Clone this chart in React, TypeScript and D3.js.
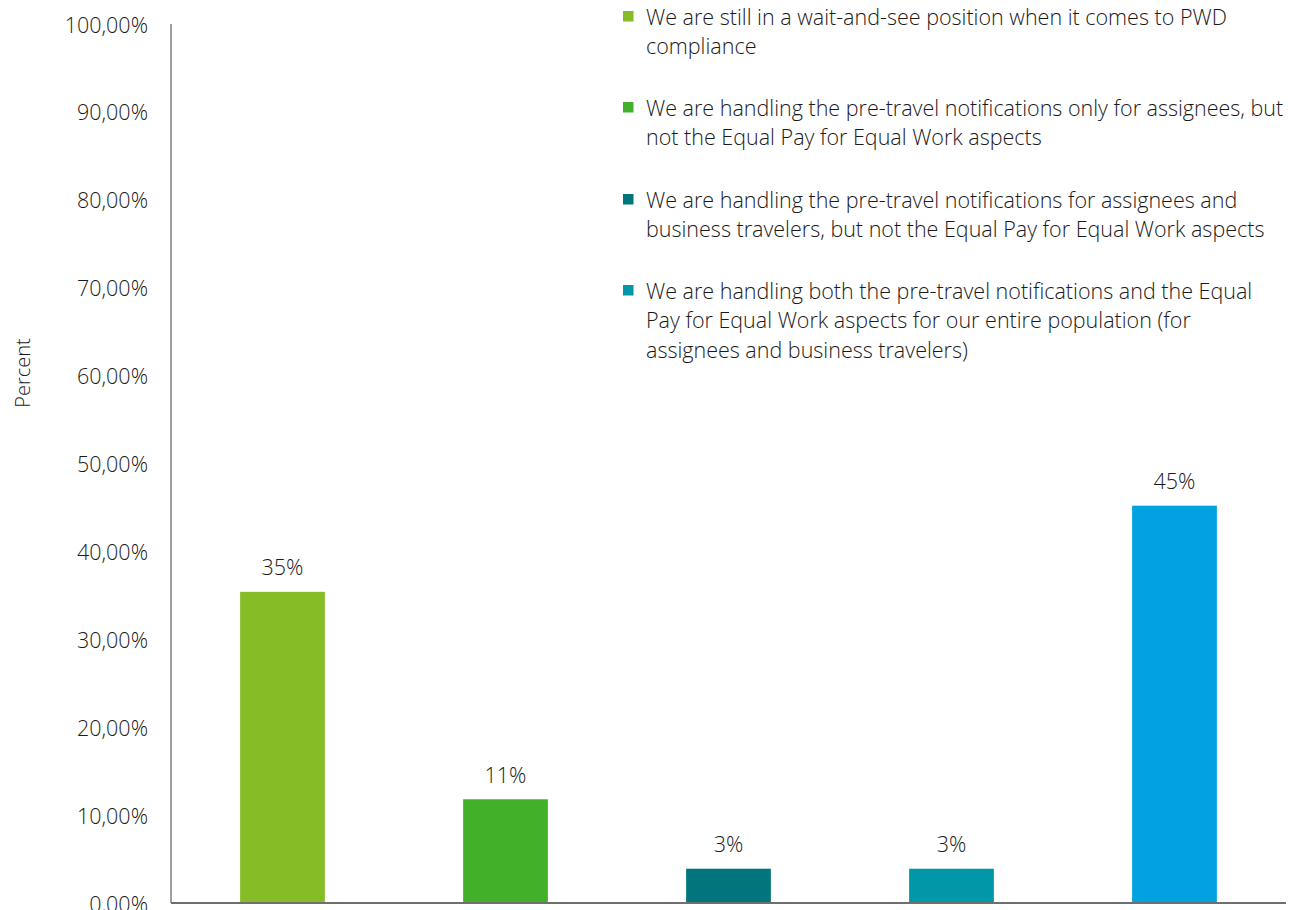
import React from "react";
import * as d3 from "d3";

const categories = ["wait", "assignees", "assigneesBT", "both", "other"];
const values = [35.4, 11.8, 3.9, 3.9, 45.2];
const valueLabels = ["35%", "11%", "3%", "3%", "45%"];
const colors = ["#86BC25", "#43B02A", "#00757B", "#0097A9", "#00A3E0"];
const yTicks = [0, 10, 20, 30, 40, 50, 60, 70, 80, 90, 100];
const yTickLabels = ["0,00%", "10,00%", "20,00%", "30,00%", "40,00%", "50,00%", "60,00%", "70,00%", "80,00%", "90,00%", "100,00%"];
const legendItems = [
  ["We are still in a wait-and-see position when it comes to PWD", "compliance"],
  ["We are handling the pre-travel notifications only for assignees, but", "not the Equal Pay for Equal Work aspects"],
  ["We are handling the pre-travel notifications for assignees and", "business travelers, but not the Equal Pay for Equal Work aspects"],
  ["We are handling both the pre-travel notifications and the Equal", "Pay for Equal Work aspects for our entire population (for", "assignees and business travelers)"],
];
const legendColors = ["#86BC25", "#43B02A", "#00757B", "#0097A9"];
const yTitle = "Percent";

const W = 1306;
const H = 910;
const left = 171;
const right = 1286;
const top = 24;
const bottom = 903;
const font = "'Open Sans', sans-serif";
const fs = 21.5;

export default function App() {
  const x = d3.scaleBand<string>().domain(categories).range([left, right]).paddingInner(0.62).paddingOuter(0.31);
  const y = d3.scaleLinear().domain([0, 100]).range([bottom, top]);
  const legendY = [16, 107, 199, 290];
  return (
    <svg width={W} height={H} style={{ position: "absolute", left: 0, top: 0, background: "#fff" }}>
      {categories.map((c, i) => (
        <g key={c}>
          <rect x={x(c)} y={y(values[i])} width={x.bandwidth()} height={y(0) - y(values[i])} fill={colors[i]} />
          <text x={(x(c) as number) + x.bandwidth() / 2} y={y(values[i]) - 25} textAnchor="middle" dominantBaseline="central" fontFamily={font} fontWeight={300} fontSize={fs} fill="#1a1a1a">
            {valueLabels[i]}
          </text>
        </g>
      ))}
      <line x1={left} x2={left} y1={top} y2={bottom} stroke="#7f7f7f" strokeWidth={1.5} />
      <line x1={left} x2={right} y1={bottom} y2={bottom} stroke="#6f6f6f" strokeWidth={2} />
      {yTicks.map((t, i) => (
        <text key={t} x={148} y={y(t)} textAnchor="end" dominantBaseline="central" fontFamily={font} fontWeight={300} fontSize={fs} fill="#1a1a1a">
          {yTickLabels[i]}
        </text>
      ))}
      <text transform={`translate(22,373) rotate(-90)`} textAnchor="middle" dominantBaseline="central" fontFamily={font} fontWeight={300} fontSize={20} fill="#1a1a1a">
        {yTitle}
      </text>
      {legendItems.map((lines, i) => (
        <g key={i}>
          <rect x={623} y={legendY[i] - 5} width={10.5} height={10.5} fill={legendColors[i]} />
          {lines.map((l, j) => (
            <text key={j} x={646} y={legendY[i] + j * 29.5} dominantBaseline="central" fontFamily={font} fontWeight={300} fontSize={fs} fill="#1a1a1a">
              {l}
            </text>
          ))}
        </g>
      ))}
    </svg>
  );
}
